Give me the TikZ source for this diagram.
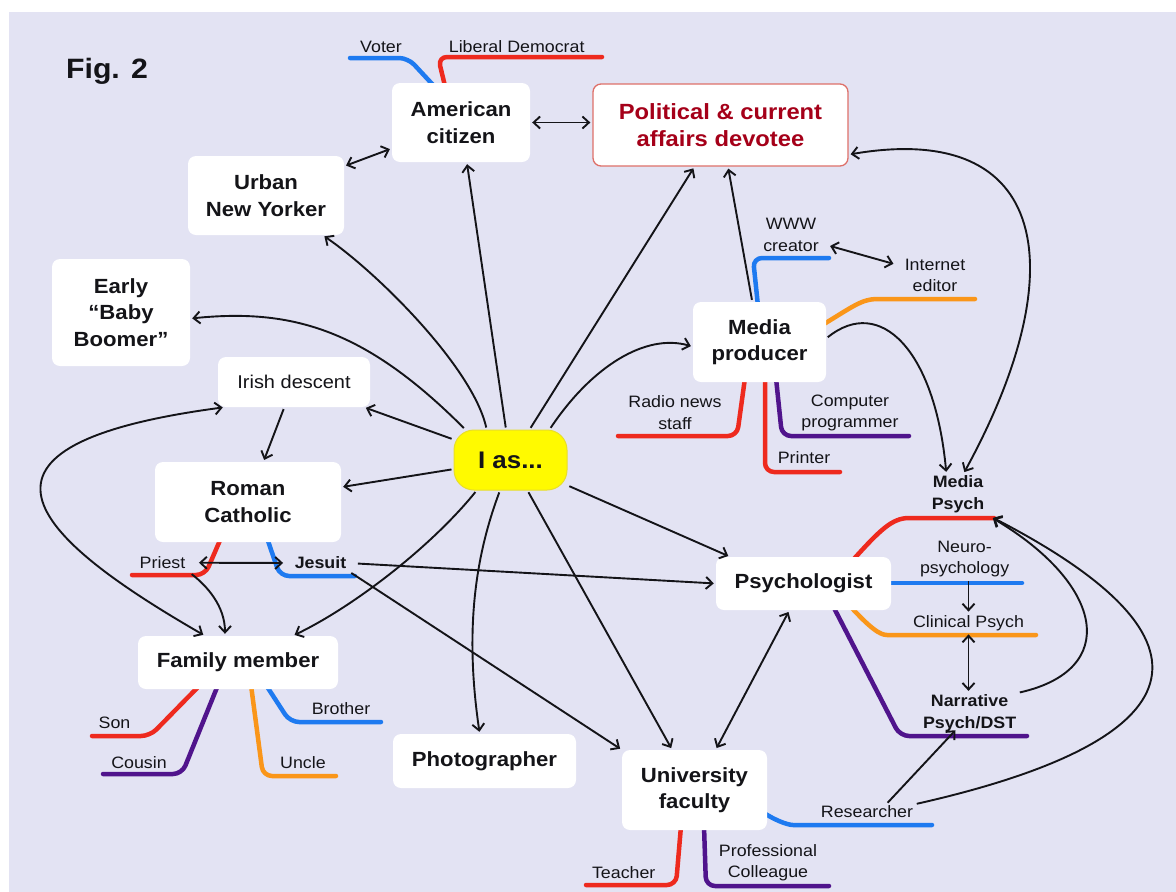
\documentclass[tikz,border=0pt]{standalone}
\usepackage{fontspec}
\setmainfont{Liberation Sans}[FakeStretch=1.08]
\usetikzlibrary{arrows.meta}

\definecolor{bgback}{RGB}{227,227,243}
\definecolor{ink}{RGB}{20,20,24}
\definecolor{brred}{RGB}{238,42,30}
\definecolor{brblue}{RGB}{30,122,240}
\definecolor{brorange}{RGB}{250,150,25}
\definecolor{brpurple}{RGB}{80,20,140}
\definecolor{polred}{RGB}{165,0,25}
\definecolor{polframe}{RGB}{222,112,105}
\definecolor{hubyellow}{RGB}{255,250,0}
\definecolor{hubframe}{RGB}{232,222,40}

\newcommand\bxfont{\fontsize{20.5}{26.5}\selectfont\bfseries}
\newcommand\lbfont{\fontsize{16.5}{21.5}\selectfont}

\pgfdeclarelayer{back}
\pgfdeclarelayer{under}
\pgfsetlayers{back,under,main}

\begin{document}
\begin{tikzpicture}[x=1pt,y=-1pt,
  box/.style={fill=white, rounded corners=8pt, inner sep=0pt, align=center,
              font=\bxfont, text=ink},
  lbl/.style={inner sep=1.5pt, align=center, font=\lbfont, text=ink},
  lblb/.style={lbl, font=\lbfont\bfseries},
  br/.style={line width=4.5pt, line cap=round, line join=round, rounded corners=9pt},
  arr/.style={draw=ink, line width=1.9pt, shorten >=2pt, shorten <=2pt},
  >={Straight Barb[length=6.5pt,width=12pt]}]

\useasboundingbox (0,0) rectangle (1176,892);
\begin{pgfonlayer}{back}
  \fill[white] (0,0) rectangle (1176,892);
  \fill[bgback] (9,12) rectangle (1176,892);
\end{pgfonlayer}

% title
\node[font=\fontsize{28}{30}\selectfont\bfseries, text=ink] (fig) at (107,71) {Fig. 2};

% central hub
\node[fill=hubyellow, draw=hubframe, line width=1pt, rounded corners=20pt,
      minimum width=113pt, minimum height=60pt, inner sep=0pt,
      font=\fontsize{24}{28}\selectfont\bfseries, text=ink] (ias) at (510.5,460) {I as...};

% identity boxes
\node[box, minimum width=138pt, minimum height=79pt] (amer) at (461,122.5) {American\\citizen};
\node[box, draw=polframe, line width=1.3pt, text=polred,
      font=\fontsize{22}{27}\selectfont\bfseries,
      minimum width=255pt, minimum height=82pt] (polit) at (720.5,125) {Political \& current\\affairs devotee};
\node[box, minimum width=156pt, minimum height=79pt] (urban) at (266,195.5) {Urban\\New Yorker};
\node[box, minimum width=138pt, minimum height=107pt] (boomer) at (121,312.5) {Early\\“Baby\\Boomer”};
\node[box, font=\fontsize{18.5}{22}\selectfont, minimum width=152pt, minimum height=50pt] (irish) at (294,382) {Irish descent};
\node[box, minimum width=186pt, minimum height=80pt] (roman) at (248,502) {Roman\\Catholic};
\node[box, minimum width=200pt, minimum height=53pt] (family) at (238,662.5) {Family member};
\node[box, minimum width=183pt, minimum height=54pt] (photo) at (484.5,761) {Photographer};
\node[box, minimum width=145pt, minimum height=80pt] (univ) at (694.5,790) {University\\faculty};
\node[box, minimum width=175pt, minimum height=53pt] (psych) at (803.5,583.5) {Psychologist};
\node[box, minimum width=133pt, minimum height=80pt] (media) at (759.5,342) {Media\\producer};

% branch labels
\node[lbl] (voter) at (381,46.5) {Voter};
\node[lbl] (libdem) at (516.7,46.5) {Liberal Democrat};
\node[lbl] (www) at (791,235) {WWW\\creator};
\node[lbl] (inet) at (935,275.5) {Internet\\editor};
\node[lbl] (radio) at (675,412.5) {Radio news\\staff};
\node[lbl] (prog) at (850,413) {Computer\\programmer};
\node[lbl] (printer) at (804,458) {Printer};
\node[lblb] (mpsych) at (958,494) {Media\\Psych};
\node[lbl] (neuro) at (964.6,559) {Neuro-\\psychology};
\node[lbl] (clin) at (968.5,623) {Clinical Psych};
\node[lblb] (narr) at (969.6,713) {Narrative\\Psych/DST};
\node[lbl] (resr) at (867,812) {Researcher};
\node[lbl] (teacher) at (623.7,873) {Teacher};
\node[lbl] (prof) at (768,862.5) {Professional\\Colleague};
\node[lbl] (priest) at (162.5,562.7) {Priest};
\node[lblb] (jesuit) at (320.5,563) {Jesuit};
\node[lbl] (son) at (114.5,723) {Son};
\node[lbl] (cousin) at (139,762.7) {Cousin};
\node[lbl] (uncle) at (303,763) {Uncle};
\node[lbl] (brother) at (341,709) {Brother};

% coloured branches under the boxes
\begin{pgfonlayer}{under}
  \draw[br, brblue] (434,86) -- (408,58) -- (350,58);
  \draw[br, brred] (445,86) -- (438,57) -- (602,57);
  \draw[br, brblue] (758,306) -- (753,258) -- (829,258);
  \draw[br, brorange] (824,324) .. controls (852,307) and (862,299) .. (886,299) -- (975,299);
  \draw[br, brred] (745,378) -- (737,436) -- (618,436);
  \draw[br, brpurple] (776,378) -- (782,436) -- (909,436);
  \draw[br, brred] (765,378) -- (765,472) -- (840,472);
  \draw[br, brred] (852,561) .. controls (880,530) and (892,518) .. (918,518) -- (994,518);
  \draw[br, brblue] (887,583) -- (1022,583);
  \draw[br, brorange] (850,606) .. controls (870,628) and (880,635) .. (896,635) -- (1036,635);
  \draw[br, brpurple] (833,606) -- (900,736) -- (1027,736);
  \draw[br, brblue] (764,813) .. controls (780,823) and (790,825) .. (802,825) -- (932,825);
  \draw[br, brred] (681,826) -- (676,885) -- (586,885);
  \draw[br, brpurple] (704,826) -- (706,886) -- (829,886);
  \draw[br, brred] (221,538) -- (205,575) -- (132,575);
  \draw[br, brblue] (267,538) -- (280,576) -- (355,576);
  \draw[br, brred] (200,685) -- (150,736) -- (92,736);
  \draw[br, brpurple] (218,685) -- (182,774) -- (103,774);
  \draw[br, brorange] (251,685) -- (263,776) -- (336,776);
  \draw[br, brblue] (266,685) -- (290,722) -- (381,722);
\end{pgfonlayer}

% connectors from the hub
\draw[arr,->] (ias) -- (amer);
\draw[arr,->] (ias) -- (polit);
\draw[arr,->] (ias) -- (irish);
\draw[arr,->] (ias) -- (roman);
\draw[arr,->] (ias) -- (univ);
\draw[arr,->] (ias.-24) -- (psych.160);
\draw[arr,->] (ias.128) .. controls (473,368) and (378,273) .. (urban.-35);
\draw[arr,->] (ias.146) .. controls (366,330) and (293,308) .. (boomer.-5);
\draw[arr,->] (ias.222) .. controls (431,547) and (353,607) .. (family.26);
\draw[arr,->] (ias.251) .. controls (472,565) and (466,640) .. (photo.100);
\draw[arr,->] (ias.38) .. controls (592,366) and (646,333) .. (media.184);

% other connectors
\draw[arr,<->] (amer) -- (urban);
\draw[arr,<->] (amer.east) -- (amer.east -| polit.west);
\draw[arr,->] (media) -- (polit);
\draw[arr,<->] (psych) -- (univ);
\draw[arr,->] (irish) -- (roman);
\draw[arr,<->,shorten <=10pt,shorten >=10pt] (www) -- (inet);
\draw[arr,<->,shorten <=12pt,shorten >=10pt] (priest.east) -- (jesuit.west);
\draw[arr,->,shorten <=10pt] (jesuit.east) -- (psych.west);
\draw[arr,->,shorten <=4pt] (jesuit.south east) -- (univ.north west);
\draw[arr,->,shorten <=6pt] (priest.south east) .. controls (207,586) and (225,606) .. (family.116);
\draw[arr,<->] (irish.200) .. controls (-60,445) and (30,535) .. (family.141);
\draw[arr,->] (media.3) .. controls (880,295) and (935,350) .. (mpsych.120);
\draw[arr,<->] (polit.-13) .. controls (1050,120) and (1075,270) .. (mpsych.75);
\draw[arr,->] (clin.north |- neuro.south) -- (clin.north);
\draw[arr,<->] (clin.south) -- (clin.south |- narr.north);
\draw[arr,->,shorten >=8pt] (narr.north east) .. controls (1120,670) and (1105,585) .. (mpsych.south east);
\draw[arr,->,shorten >=-4pt] (resr.22) -- (narr.-130);
\draw[arr,->,shorten >=8pt] (resr.north east) .. controls (1200,740) and (1230,640) .. (mpsych.south east);

\end{tikzpicture}
\end{document}
